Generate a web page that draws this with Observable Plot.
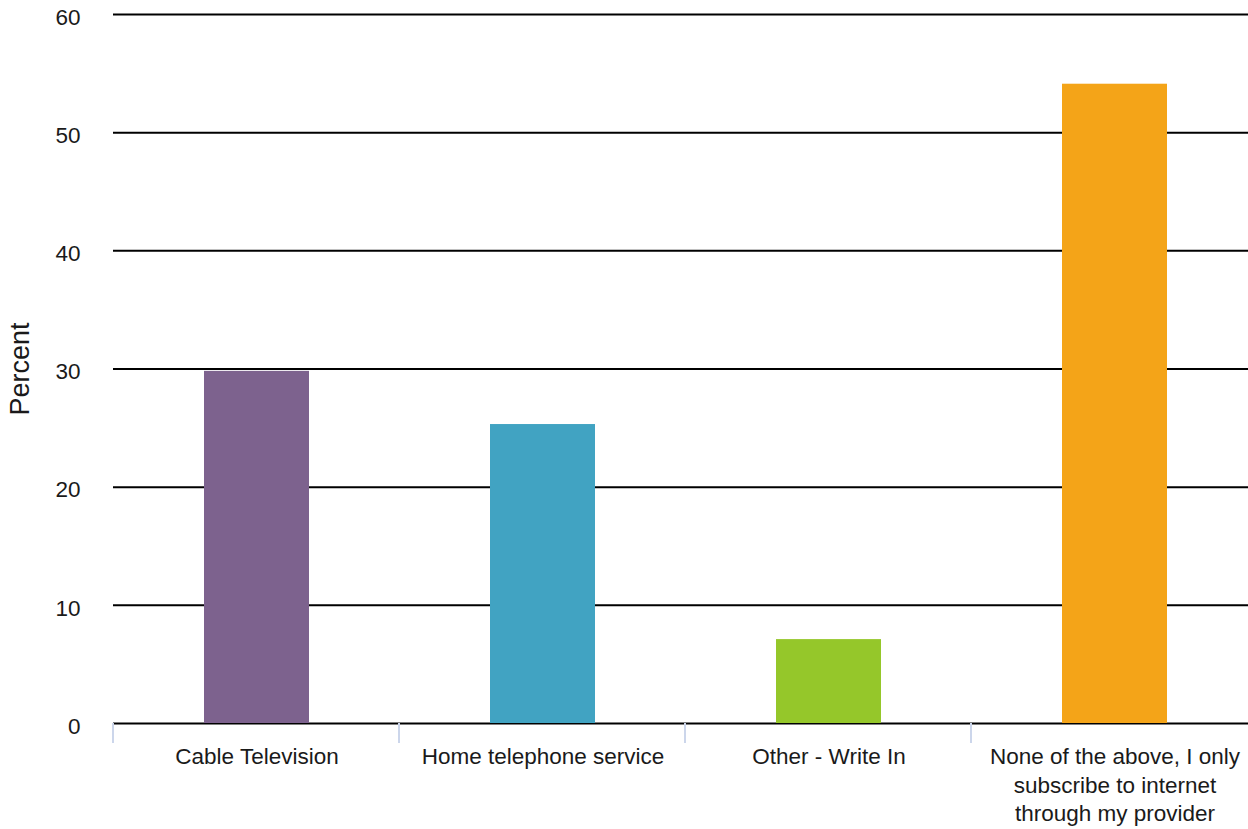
<!DOCTYPE html>
<html>
<head>
<meta charset="utf-8">
<script src="https://cdn.jsdelivr.net/npm/d3@7"></script>
<script src="https://cdn.jsdelivr.net/npm/@observablehq/plot@0.6"></script>
<style>
  html, body { margin: 0; padding: 0; background: #fff; overflow: hidden; }
  #chart svg { display: block; }
</style>
</head>
<body>
<div id="chart"></div>
<script>
const categories = ["Cable Television", "Home telephone service", "Other - Write In", "None of the above, I only subscribe to internet through my provider"];
const tickLabels = ["Cable Television", "Home telephone service", "Other - Write In", "None of the above, I only\nsubscribe to internet\nthrough my provider"];
const values = [29.8, 25.3, 7.1, 54.1];
const colors = ["#7d628e", "#41a3c2", "#95c72a", "#f4a418"];
const yTicks = [0, 10, 20, 30, 40, 50, 60];
const yLabel = "Percent";

const data = categories.map((c, i) => ({category: c, value: values[i], color: colors[i], label: tickLabels[i]}));

const W = 1248, H = 829, ML = 113, MT = 14, MB = 106;
const xRange = [ML, 1257];
const step = (xRange[1] - xRange[0]) / categories.length;
const font = "'Liberation Sans', Arial, Helvetica, sans-serif";

const chart = Plot.plot({
  width: W,
  height: H,
  marginLeft: ML,
  marginRight: 0,
  marginTop: MT,
  marginBottom: MB,
  style: {fontFamily: font, fontSize: "22.5px", color: "#000", background: "#fff"},
  x: {domain: categories, range: xRange, paddingInner: 0.633, paddingOuter: 0.3165, label: null},
  y: {domain: [0, 60], label: null},
  marks: [
    Plot.gridY(yTicks, {stroke: "#000", strokeOpacity: 1, strokeWidth: 2}),
    Plot.barY(data, {x: "category", y: "value", fill: "color"}),
    Plot.axisY(yTicks, {tickSize: 0, tickPadding: 33, dy: 3, fontSize: 22.5, label: null, fill: "#1a1a1a"}),
    Plot.axisX(categories, {tickSize: 20, tickFormat: () => "", dx: -step / 2 - 1, stroke: "#ccd6eb", strokeWidth: 2, label: null}),
    Plot.text(data, {x: "category", text: "label", frameAnchor: "bottom", lineAnchor: "top", dy: 21, lineHeight: 1.25, fontSize: 22.5, fill: "#1a1a1a"}),
    Plot.text([yLabel], {frameAnchor: "left", textAnchor: "middle", rotate: -90, dx: -93, fontSize: 27, fill: "#1a1a1a", text: d => d})
  ]
});
document.getElementById("chart").appendChild(chart);
</script>
</body>
</html>
